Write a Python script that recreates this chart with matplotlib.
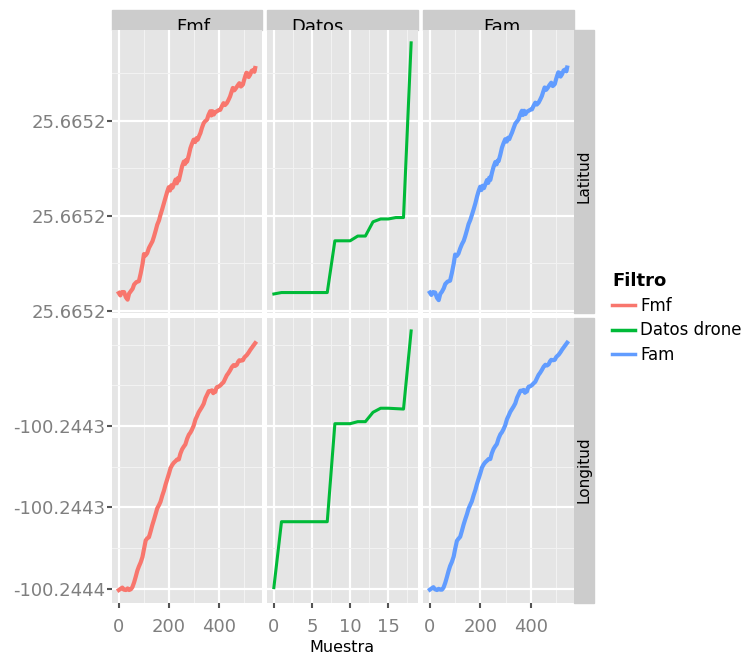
import numpy as np
import matplotlib.pyplot as plt
from matplotlib.patches import Rectangle
from matplotlib.lines import Line2D
from matplotlib.ticker import FixedLocator, MultipleLocator, FormatStrFormatter

# datos
filtros = ["Fmf", "Datos drone", "Fam"]
colores = ["#F8766D", "#00BA38", "#619CFF"]
filas = ["Latitud", "Longitud"]

lat0 = 25.66516
lon0 = -100.24436
lat_breaks = [25.66516, 25.66518, 25.66520]
lon_breaks = [-100.24436, -100.24434, -100.24432]

# offsets en micro-grados respecto a lat0 / lon0
muestra_lat = np.array([0, 6, 12, 21, 28, 35, 41, 48, 55, 61, 70, 80, 87, 94, 100, 106, 113, 120,
                        127, 134, 140, 147, 153, 160, 166, 173, 180, 187, 193, 199, 204, 209, 214,
                        226, 231, 235, 239, 246, 252, 259, 264, 268, 272, 279, 285, 291, 298, 304,
                        309, 314, 320, 325, 331, 338, 344, 351, 357, 364, 368, 373, 378, 384, 391,
                        397, 404, 410, 417, 423, 430, 436, 443, 449, 454, 460, 467, 473, 480, 486,
                        494, 499, 503, 508, 512, 517, 523, 529, 536, 540, 543])
lat_fmf = lat0 + np.array([3.7, 3.2, 3.9, 3.9, 2.8, 2.3, 3.6, 4.1, 4.6, 5.5, 6.0, 6.2, 7.8, 9.7, 11.9,
                           11.6, 12.1, 13.2, 13.9, 14.6, 15.6, 16.9, 18.1, 19.0, 20.2, 21.4, 22.7,
                           24.0, 25.1, 26.0, 25.3, 26.4, 25.9, 27.6, 26.8, 27.9, 27.4, 29.0, 30.4,
                           31.4, 30.9, 31.7, 31.4, 32.8, 34.2, 35.1, 36.0, 35.5, 36.3, 36.0, 36.8,
                           37.4, 38.5, 39.5, 39.9, 40.2, 41.2, 42.0, 41.1, 42.0, 41.3, 41.8, 42.0,
                           42.2, 42.3, 43.0, 43.7, 43.3, 43.7, 44.3, 45.1, 46.1, 46.9, 46.4, 46.9,
                           47.4, 47.9, 47.2, 47.6, 48.6, 49.3, 50.1, 50.0, 49.2, 49.7, 50.5, 50.7,
                           50.3, 51.1]) * 1e-6
lat_fam = lat0 + np.array([3.8, 3.3, 3.9, 3.8, 2.7, 2.2, 3.5, 4.0, 4.7, 5.6, 6.1, 6.3, 7.9, 9.8, 11.8,
                           11.5, 12.0, 13.1, 14.0, 14.7, 15.7, 17.0, 18.2, 19.1, 20.1, 21.3, 22.6,
                           24.1, 25.2, 26.1, 25.4, 26.3, 25.8, 27.5, 26.9, 28.0, 27.5, 29.1, 30.3,
                           31.3, 30.8, 31.6, 31.5, 32.9, 34.3, 35.2, 36.1, 35.6, 36.4, 36.1, 36.9,
                           37.5, 38.4, 39.4, 39.8, 40.3, 41.3, 42.1, 41.2, 42.1, 41.4, 41.9, 42.1,
                           42.3, 42.4, 43.1, 43.8, 43.4, 43.8, 44.4, 45.2, 46.2, 47.0, 46.5, 47.0,
                           47.5, 48.0, 47.3, 47.7, 48.7, 49.4, 50.2, 50.1, 49.3, 49.8, 50.6, 50.8,
                           50.4, 51.2]) * 1e-6

muestra_lon = np.array([0, 7, 14, 20, 28, 35, 41, 48, 54, 61, 67, 74, 80, 87, 94, 100, 107, 113,
                        120, 127, 133, 140, 147, 153, 160, 166, 173, 180, 186, 193, 200, 206, 213,
                        219, 226, 232, 239, 245, 252, 258, 265, 272, 279, 285, 291, 298, 305, 311,
                        318, 325, 331, 338, 345, 352, 358, 364, 371, 376, 380, 384, 388, 391, 397,
                        404, 410, 417, 423, 430, 436, 443, 450, 457, 463, 470, 475, 480, 487, 494,
                        500, 505, 510, 517, 523, 530, 537, 543])
lon_fmf = lon0 + np.array([-0.3, 0.0, 0.3, -0.2, -0.3, 0.1, -0.3, -0.1, 0.4, 1.6, 2.9, 4.5, 5.5, 6.5,
                           7.8, 9.7, 11.9, 12.4, 12.7, 14.2, 15.6, 17.0, 18.5, 19.8, 20.6, 21.4,
                           22.9, 24.2, 25.6, 27.0, 28.4, 29.7, 30.5, 31.0, 31.4, 31.8, 31.8, 33.2,
                           34.3, 34.9, 35.5, 36.9, 37.9, 38.4, 39.1, 40.1, 41.6, 42.4, 43.4, 44.1,
                           44.7, 45.5, 46.9, 47.8, 48.6, 48.6, 48.8, 48.1, 48.6, 48.4, 49.3, 49.6,
                           49.7, 50.0, 50.4, 50.8, 51.6, 52.5, 53.0, 53.7, 54.5, 55.0, 54.8, 55.1,
                           55.8, 56.2, 56.1, 56.2, 56.9, 57.2, 57.5, 58.1, 58.7, 59.3, 59.9,
                           60.4]) * 1e-6
lon_fam = lon0 + np.array([-0.2, 0.1, 0.4, -0.1, -0.3, 0.0, -0.2, -0.2, 0.3, 1.5, 2.8, 4.4, 5.6, 6.6,
                           7.9, 9.8, 11.8, 12.3, 12.8, 14.3, 15.7, 17.1, 18.4, 19.7, 20.7, 21.5,
                           23.0, 24.3, 25.7, 27.1, 28.5, 29.8, 30.6, 31.1, 31.5, 31.9, 31.9, 33.3,
                           34.4, 35.0, 35.6, 37.0, 38.0, 38.5, 39.2, 40.2, 41.7, 42.5, 43.5, 44.2,
                           44.8, 45.6, 47.0, 47.9, 48.7, 48.7, 48.9, 48.2, 48.7, 48.5, 49.4, 49.7,
                           49.8, 50.1, 50.5, 50.9, 51.7, 52.6, 53.1, 53.8, 54.6, 55.1, 54.9, 55.2,
                           55.9, 56.3, 56.2, 56.3, 57.0, 57.3, 57.6, 58.2, 58.8, 59.4, 60.0,
                           60.5]) * 1e-6

muestra_drone = np.arange(19)
lat_drone = lat0 + np.array([3.5, 3.8, 3.8, 3.8, 3.8, 3.8, 3.8, 3.8, 14.7, 14.7, 14.7, 15.7, 15.7,
                             18.7, 19.3, 19.3, 19.6, 19.6, 56.4]) * 1e-6
lon_drone = lon0 + np.array([0.3, 16.5, 16.5, 16.5, 16.5, 16.5, 16.5, 16.5, 40.6, 40.6, 40.6, 41.1,
                             41.1, 43.4, 44.4, 44.4, 44.3, 44.2, 63.4]) * 1e-6

series = [[(muestra_lat, lat_fmf), (muestra_drone, lat_drone), (muestra_lat, lat_fam)],
          [(muestra_lon, lon_fmf), (muestra_drone, lon_drone), (muestra_lon, lon_fam)]]

W, H = 753, 653
fig = plt.figure(figsize=(W / 100, H / 100), dpi=100)

def caja(x0, y0, x1, y1):
    return [x0 / W, 1 - y1 / H, (x1 - x0) / W, (y1 - y0) / H]

cols = [(112, 262), (267, 418), (423, 574)]
rows = [(30, 313), (318, 603)]

axs = [[None] * 3 for _ in rows]
for i, (y0, y1) in enumerate(rows):
    for j, (x0, x1) in enumerate(cols):
        sx = axs[0][j] if i > 0 else None
        sy = axs[i][0] if j > 0 else None
        ax = fig.add_axes(caja(x0, y0, x1, y1), sharex=sx, sharey=sy)
        axs[i][j] = ax
        x, y = series[i][j]
        lw = 2.2 if j == 1 else 3.0
        ax.plot(x, y, color=colores[j], lw=lw, solid_joinstyle='round')
        ax.margins(0.05)
        ax.set_facecolor('#E5E5E5')
        for s in ax.spines.values():
            s.set_visible(False)
        ax.set_axisbelow(True)
        ax.grid(which='major', color='white', lw=1.6)
        ax.grid(which='minor', color='#F2F2F2', lw=0.8)
        ax.tick_params(which='minor', length=0)
        ax.tick_params(which='major', color='#555555', width=1.5, labelcolor='#7F7F7F',
                       labelsize=13)
        ax.tick_params(axis='y', length=3.5, pad=1)
        ax.tick_params(axis='x', length=3.6, pad=7)
        if j > 0:
            ax.tick_params(axis='y', left=False, labelleft=False)
        if i == 0:
            ax.tick_params(axis='x', bottom=False, labelbottom=False)

for j in range(3):
    ax = axs[1][j]
    if j == 1:
        ax.xaxis.set_major_locator(MultipleLocator(5))
        ax.xaxis.set_minor_locator(MultipleLocator(2.5))
    else:
        ax.xaxis.set_major_locator(MultipleLocator(200))
        ax.xaxis.set_minor_locator(MultipleLocator(100))

for i, breaks in enumerate([lat_breaks, lon_breaks]):
    ax = axs[i][0]
    ax.yaxis.set_major_locator(FixedLocator(breaks))
    ax.yaxis.set_minor_locator(MultipleLocator(1e-5))
    ax.yaxis.set_major_formatter(FormatStrFormatter('%.4f'))

# strips
for (x0, x1) in cols:
    fig.patches.append(Rectangle((x0 / W, 1 - 30 / H), (x1 - x0) / W, 20 / H,
                                 transform=fig.transFigure, color='#CCCCCC', zorder=-2))
fig.text(193 / W, 1 - 32 / H, "Fmf", ha='center', va='baseline', fontsize=13, zorder=-1)
fig.text(291 / W, 1 - 32 / H, "Datos", ha='left', va='baseline', fontsize=13, zorder=-1)
fig.text(502 / W, 1 - 32 / H, "Fam", ha='center', va='baseline', fontsize=13, zorder=-1)

for (y0, y1), nombre, yc in zip(rows, filas, [176, 470]):
    fig.patches.append(Rectangle((574 / W, 1 - y1 / H), 20 / W, (y1 - y0) / H,
                                 transform=fig.transFigure, color='#CCCCCC', zorder=-2))
    fig.text(584 / W, 1 - yc / H, nombre, rotation=90, ha='center', va='center', fontsize=11)

fig.text(342 / W, 1 - 647 / H, "Muestra", ha='center', va='center', fontsize=11.5)

handles = [Line2D([], [], color=c, lw=2.5) for c in colores]
fig.legend(handles, filtros, loc='upper left', bbox_to_anchor=(612 / W, 1 - 272 / H),
           frameon=False, borderpad=0, borderaxespad=0, handlelength=1.4,
           handletextpad=0.3, labelspacing=0.4, fontsize=12, title='Filtro',
           title_fontproperties={'weight': 'bold', 'size': 13}, alignment='left')

fig.savefig('out.png', dpi=100)
